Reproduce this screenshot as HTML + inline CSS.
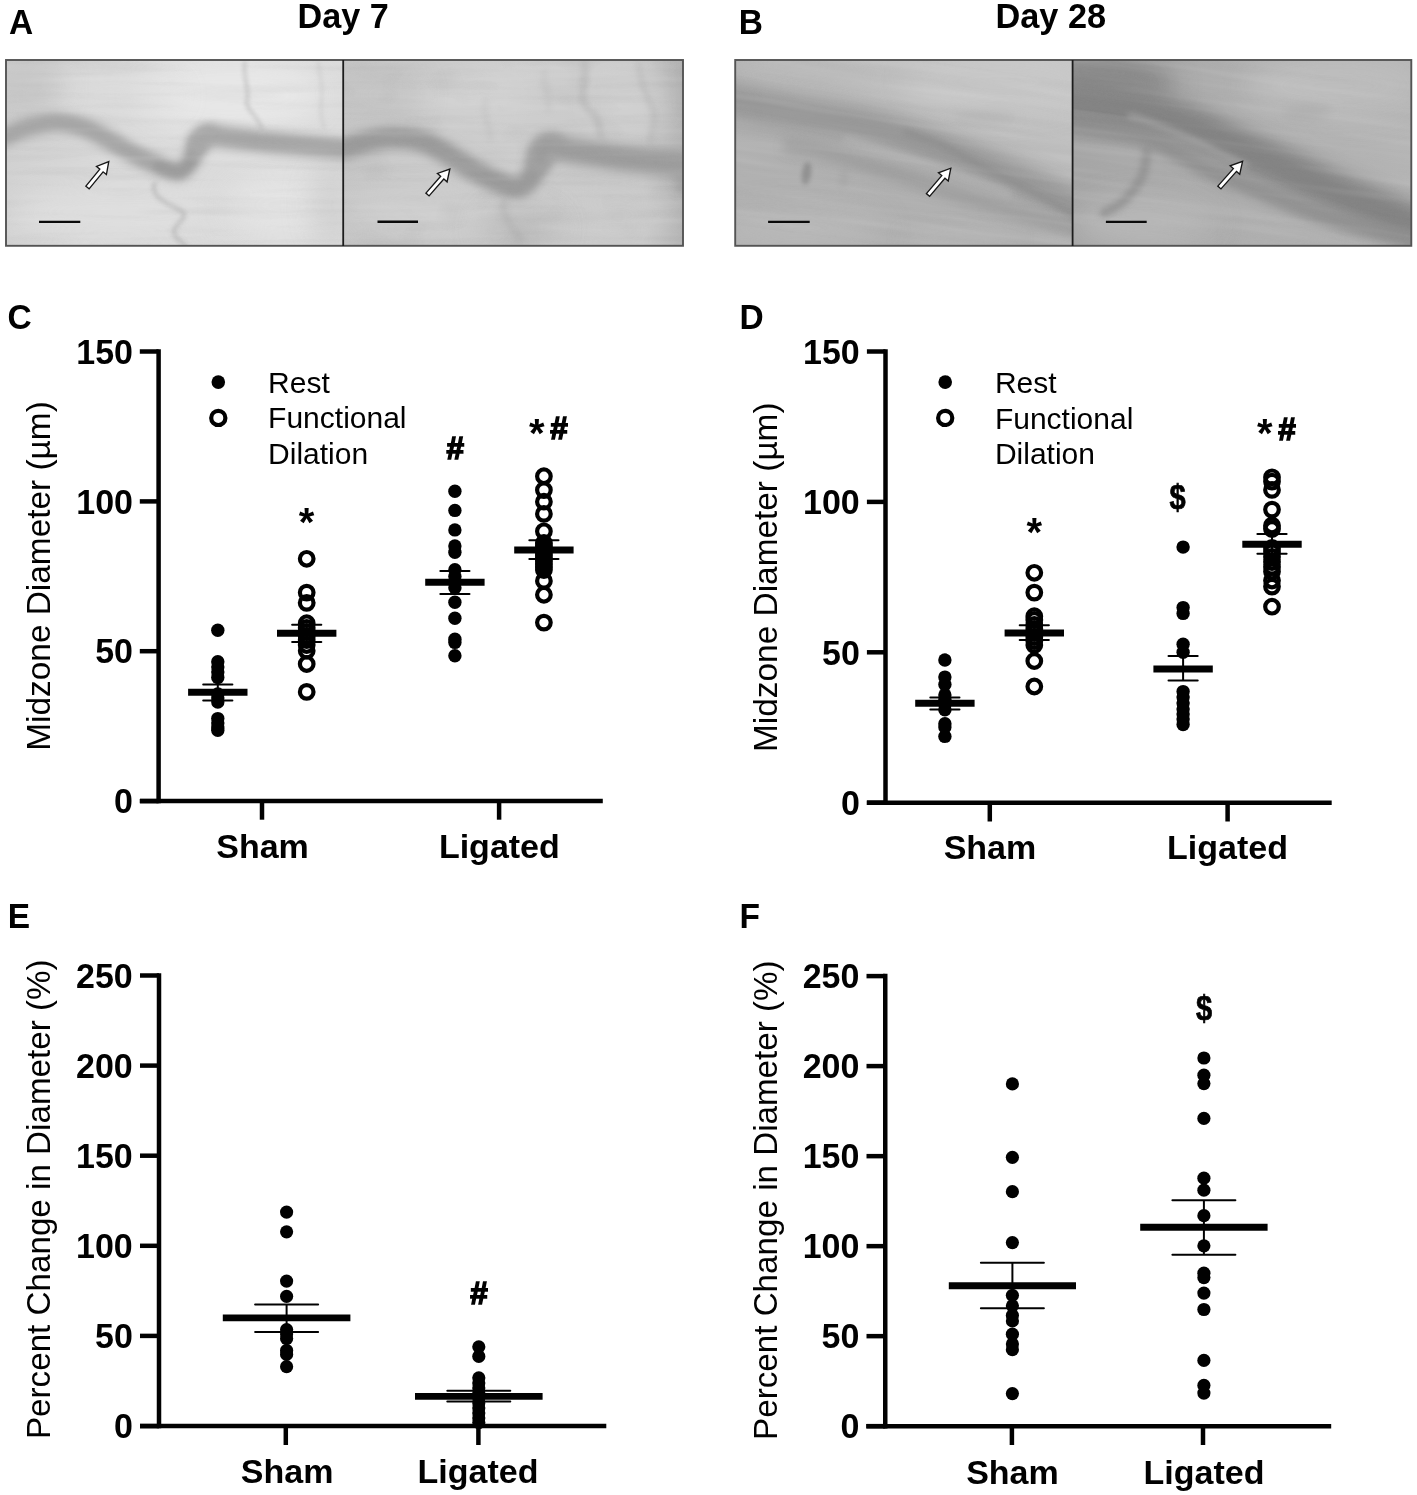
<!DOCTYPE html>
<html lang="en"><head><meta charset="utf-8"><title>Figure</title>
<style>html,body{margin:0;padding:0;background:#fff;overflow:hidden}svg{display:block}text{font-family:"Liberation Sans",sans-serif;fill:#000}</style>
</head><body>
<svg width="1417" height="1495" viewBox="0 0 1417 1495">
<rect width="1417" height="1495" fill="#fff"/>
<defs>
<filter id="b1" x="-150%" y="-150%" width="400%" height="400%"><feGaussianBlur stdDeviation="1.2"/></filter>
<filter id="b2" x="-150%" y="-150%" width="400%" height="400%"><feGaussianBlur stdDeviation="2.2"/></filter>
<filter id="b3" x="-150%" y="-150%" width="400%" height="400%"><feGaussianBlur stdDeviation="3.2"/></filter>
<filter id="b5" x="-150%" y="-150%" width="400%" height="400%"><feGaussianBlur stdDeviation="5"/></filter>
<filter id="b8" x="-150%" y="-150%" width="400%" height="400%"><feGaussianBlur stdDeviation="8"/></filter>
<filter id="b14" x="-150%" y="-150%" width="400%" height="400%"><feGaussianBlur stdDeviation="14"/></filter>
<filter id="b22" x="-150%" y="-150%" width="400%" height="400%"><feGaussianBlur stdDeviation="22"/></filter>
<clipPath id="cAL"><rect x="6" y="60" width="337.2" height="185.8"/></clipPath>
<clipPath id="cAR"><rect x="343.2" y="60" width="339.8" height="185.8"/></clipPath>
<clipPath id="cBL"><rect x="735.2" y="60" width="337" height="185.8"/></clipPath>
<clipPath id="cBR"><rect x="1072.2" y="60" width="339.2" height="185.8"/></clipPath>
<linearGradient id="gAL" x1="0" y1="0" x2="1" y2="0.25"><stop offset="0" stop-color="#cdcdcd"/><stop offset="0.45" stop-color="#dadada"/><stop offset="1" stop-color="#dcdcdc"/></linearGradient>
<linearGradient id="gAR" x1="0" y1="0" x2="1" y2="0"><stop offset="0" stop-color="#c6c6c6"/><stop offset="0.5" stop-color="#cecece"/><stop offset="0.88" stop-color="#c8c8c8"/><stop offset="1" stop-color="#b4b4b4"/></linearGradient>
<linearGradient id="gBL" x1="0" y1="1" x2="0.8" y2="0"><stop offset="0" stop-color="#b2b2b2"/><stop offset="0.45" stop-color="#b0b0b0"/><stop offset="1" stop-color="#c8c8c8"/></linearGradient>
<linearGradient id="gBR" x1="0" y1="0" x2="1" y2="0"><stop offset="0" stop-color="#a6a6a6"/><stop offset="0.5" stop-color="#b0b0b0"/><stop offset="1" stop-color="#b6b6b6"/></linearGradient>
<filter id="stD" x="0" y="0" width="100%" height="100%"><feTurbulence type="fractalNoise" baseFrequency="0.006 0.11" numOctaves="2" seed="4"/><feColorMatrix type="matrix" values="0 0 0 0 0.3  0 0 0 0 0.3  0 0 0 0 0.3  1.6 0 0 0 -0.8"/></filter>
<filter id="stL" x="0" y="0" width="100%" height="100%"><feTurbulence type="fractalNoise" baseFrequency="0.006 0.11" numOctaves="2" seed="4"/><feColorMatrix type="matrix" values="0 0 0 0 1  0 0 0 0 1  0 0 0 0 1  -1.6 0 0 0 0.8"/></filter>
<filter id="mtD" x="0" y="0" width="100%" height="100%"><feTurbulence type="fractalNoise" baseFrequency="0.02 0.03" numOctaves="2" seed="9"/><feColorMatrix type="matrix" values="0 0 0 0 0.35  0 0 0 0 0.35  0 0 0 0 0.35  1.5 0 0 0 -0.78"/></filter>
</defs>
<g clip-path="url(#cAL)">
<rect x="5" y="59" width="340" height="188" fill="url(#gAL)"/>
<ellipse cx="230" cy="95" rx="95" ry="38" fill="#e8e8e8" filter="url(#b14)" opacity="0.9"/>
<ellipse cx="120" cy="212" rx="110" ry="28" fill="#dedede" filter="url(#b14)" opacity="0.85"/>
<ellipse cx="285" cy="205" rx="60" ry="30" fill="#e6e6e6" filter="url(#b14)" opacity="0.85"/>
<ellipse cx="110" cy="95" rx="70" ry="22" fill="#dedede" filter="url(#b14)" opacity="0.7"/>
<ellipse cx="25" cy="85" rx="35" ry="40" fill="#c6c6c6" filter="url(#b14)" opacity="0.8"/>
<ellipse cx="332" cy="205" rx="22" ry="45" fill="#cecece" filter="url(#b14)" opacity="0.8"/>
<path d="M-8.0 139.0 C-5.5 138.4, 1.2 137.5, 6.8 135.7 C12.4 133.9, 17.2 130.3, 25.4 128.1 C33.6 125.8, 46.0 122.2, 55.9 122.2 C65.8 122.2, 75.7 125.0, 84.7 128.1 C93.7 131.2, 101.5 136.3, 110.0 140.8 C118.5 145.3, 128.4 151.5, 135.5 155.2 C142.6 158.9, 146.8 160.4, 152.4 162.8 C158.1 165.2, 164.9 168.2, 169.4 169.6 C173.9 171.0, 176.4 172.2, 179.5 171.3 C182.6 170.5, 185.4 167.6, 188.0 164.5 C190.6 161.4, 192.8 156.8, 194.8 152.7 C196.8 148.6, 197.8 142.9, 200.0 140.0 C202.2 137.1, 206.7 135.8, 208.0 135.0" fill="none" stroke="#afafaf" stroke-width="20" stroke-linecap="round" stroke-linejoin="round" filter="url(#b5)" opacity="1" />
<path d="M-8.0 139.0 C-5.5 138.4, 1.2 137.5, 6.8 135.7 C12.4 133.9, 17.2 130.3, 25.4 128.1 C33.6 125.8, 46.0 122.2, 55.9 122.2 C65.8 122.2, 75.7 125.0, 84.7 128.1 C93.7 131.2, 101.5 136.3, 110.0 140.8 C118.5 145.3, 128.4 151.5, 135.5 155.2 C142.6 158.9, 146.8 160.4, 152.4 162.8 C158.1 165.2, 164.9 168.2, 169.4 169.6 C173.9 171.0, 176.4 172.2, 179.5 171.3 C182.6 170.5, 185.4 167.6, 188.0 164.5 C190.6 161.4, 192.8 156.8, 194.8 152.7 C196.8 148.6, 197.8 142.9, 200.0 140.0 C202.2 137.1, 206.7 135.8, 208.0 135.0" fill="none" stroke="#a5a5a5" stroke-width="11" stroke-linecap="round" stroke-linejoin="round" filter="url(#b3)" opacity="0.85" />
<path d="M158.0 166.0 C160.0 166.8, 166.3 169.6, 170.0 170.5 C173.7 171.4, 177.0 172.4, 180.0 171.5 C183.0 170.6, 185.5 168.2, 188.0 165.0 C190.5 161.8, 193.0 156.0, 195.0 152.0 C197.0 148.0, 199.2 142.8, 200.0 141.0" fill="none" stroke="#979797" stroke-width="10" stroke-linecap="round" stroke-linejoin="round" filter="url(#b3)" opacity="0.7" />
<path d="M198.0 143.0 C199.7 141.8, 202.8 136.4, 208.0 135.5 C213.2 134.6, 218.1 136.6, 229.0 137.8 C239.9 139.1, 256.1 141.3, 273.4 143.0 C290.7 144.7, 319.5 147.0, 332.6 148.2 C345.7 149.4, 348.8 149.7, 352.0 150.0" fill="none" stroke="#adadad" stroke-width="22" stroke-linecap="round" stroke-linejoin="round" filter="url(#b5)" opacity="1" />
<path d="M198.0 143.0 C199.7 141.8, 202.8 136.4, 208.0 135.5 C213.2 134.6, 218.1 136.6, 229.0 137.8 C239.9 139.1, 256.1 141.3, 273.4 143.0 C290.7 144.7, 319.5 147.0, 332.6 148.2 C345.7 149.4, 348.8 149.7, 352.0 150.0" fill="none" stroke="#a5a5a5" stroke-width="11" stroke-linecap="round" stroke-linejoin="round" filter="url(#b3)" opacity="0.8" />
<path d="M155 183 C 150 192, 160 200, 170 205 S 190 212, 180 222 S 172 235, 186 246" fill="none" stroke="#bdbdbd" stroke-width="4" stroke-linecap="round" stroke-linejoin="round" filter="url(#b2)" opacity="0.9" />
<path d="M245 62 C 242 75, 250 90, 247 100 S 262 118, 262 132" fill="none" stroke="#c2c2c2" stroke-width="3.2" stroke-linecap="round" stroke-linejoin="round" filter="url(#b2)" opacity="0.9" />
<path d="M318.6 62.0 C318.6 62.5, 318.0 60.1, 318.6 64.8 C319.2 69.5, 321.6 82.2, 322.0 90.0 C322.4 97.8, 320.7 105.4, 321.0 111.7 C321.3 118.0, 323.5 125.3, 324.0 128.0" fill="none" stroke="#c6c6c6" stroke-width="3" stroke-linecap="round" stroke-linejoin="round" filter="url(#b2)" opacity="0.6" />
<rect x="5" y="59" width="340" height="188" filter="url(#stD)" opacity="0.16"/>
<rect x="5" y="59" width="340" height="188" filter="url(#stL)" opacity="0.16"/>
</g>
<g clip-path="url(#cAR)">
<rect x="342" y="59" width="342" height="188" fill="url(#gAR)"/>
<ellipse cx="470" cy="92" rx="55" ry="24" fill="#d4d4d4" filter="url(#b14)" opacity="0.8"/>
<ellipse cx="625" cy="105" rx="40" ry="28" fill="#d2d2d2" filter="url(#b14)" opacity="0.8"/>
<ellipse cx="415" cy="215" rx="70" ry="25" fill="#cecece" filter="url(#b14)" opacity="0.8"/>
<ellipse cx="615" cy="215" rx="55" ry="22" fill="#cccccc" filter="url(#b14)" opacity="0.8"/>
<ellipse cx="520" cy="228" rx="40" ry="22" fill="#b8b8b8" filter="url(#b14)" opacity="0.7"/>
<ellipse cx="380" cy="95" rx="40" ry="30" fill="#c2c2c2" filter="url(#b14)" opacity="0.6"/>
<ellipse cx="682" cy="178" rx="7" ry="16" fill="#9a9a9a" filter="url(#b5)" opacity="0.7"/>
<ellipse cx="683" cy="90" rx="5" ry="30" fill="#b0b0b0" filter="url(#b5)" opacity="0.5"/>
<path d="M336.0 150.0 C337.8 149.6, 340.5 149.1, 346.8 147.4 C353.1 145.7, 365.7 141.5, 373.9 139.8 C382.1 138.1, 387.4 136.9, 395.9 137.3 C404.4 137.7, 415.7 139.2, 424.7 142.3 C433.7 145.4, 441.5 151.1, 450.0 155.9 C458.5 160.7, 468.4 167.2, 475.5 171.1 C482.6 175.0, 486.8 177.0, 492.4 179.6 C498.0 182.2, 504.9 185.1, 509.4 186.4 C513.9 187.7, 516.1 188.3, 519.5 187.2 C522.9 186.1, 526.9 182.8, 529.7 179.6 C532.5 176.3, 534.2 172.2, 536.5 167.7 C538.8 163.2, 540.5 156.2, 543.3 152.5 C546.1 148.8, 551.7 146.8, 553.4 145.7" fill="none" stroke="#a4a4a4" stroke-width="23" stroke-linecap="round" stroke-linejoin="round" filter="url(#b5)" opacity="1" />
<path d="M336.0 150.0 C337.8 149.6, 340.5 149.1, 346.8 147.4 C353.1 145.7, 365.7 141.5, 373.9 139.8 C382.1 138.1, 387.4 136.9, 395.9 137.3 C404.4 137.7, 415.7 139.2, 424.7 142.3 C433.7 145.4, 441.5 151.1, 450.0 155.9 C458.5 160.7, 468.4 167.2, 475.5 171.1 C482.6 175.0, 486.8 177.0, 492.4 179.6 C498.0 182.2, 504.9 185.1, 509.4 186.4 C513.9 187.7, 516.1 188.3, 519.5 187.2 C522.9 186.1, 526.9 182.8, 529.7 179.6 C532.5 176.3, 534.2 172.2, 536.5 167.7 C538.8 163.2, 540.5 156.2, 543.3 152.5 C546.1 148.8, 551.7 146.8, 553.4 145.7" fill="none" stroke="#9a9a9a" stroke-width="13" stroke-linecap="round" stroke-linejoin="round" filter="url(#b3)" opacity="0.85" />
<path d="M540.0 158.0 C541.1 156.0, 541.5 147.4, 546.6 146.1 C551.7 144.8, 561.9 148.9, 570.6 150.3 C579.3 151.7, 589.4 153.2, 598.8 154.6 C608.2 156.0, 617.6 157.6, 627.0 158.8 C636.4 160.0, 644.8 160.8, 655.3 161.6 C665.8 162.4, 684.2 163.2, 690.0 163.5" fill="none" stroke="#a4a4a4" stroke-width="27" stroke-linecap="round" stroke-linejoin="round" filter="url(#b5)" opacity="1" />
<path d="M540.0 158.0 C541.1 156.0, 541.5 147.4, 546.6 146.1 C551.7 144.8, 561.9 148.9, 570.6 150.3 C579.3 151.7, 589.4 153.2, 598.8 154.6 C608.2 156.0, 617.6 157.6, 627.0 158.8 C636.4 160.0, 644.8 160.8, 655.3 161.6 C665.8 162.4, 684.2 163.2, 690.0 163.5" fill="none" stroke="#9b9b9b" stroke-width="13" stroke-linecap="round" stroke-linejoin="round" filter="url(#b3)" opacity="0.85" />
<path d="M584.7 62.0 C584.7 64.0, 584.9 67.4, 584.7 74.1 C584.5 80.8, 581.4 95.2, 583.3 102.3 C585.2 109.4, 593.2 111.3, 596.0 116.5 C598.8 121.7, 599.3 129.5, 600.2 133.4 C601.1 137.3, 601.4 138.9, 601.6 140.0" fill="none" stroke="#b2b2b2" stroke-width="5" stroke-linecap="round" stroke-linejoin="round" filter="url(#b3)" opacity="0.8" />
<path d="M545 70 C 540 85, 552 95, 548 110" fill="none" stroke="#bababa" stroke-width="4" stroke-linecap="round" stroke-linejoin="round" filter="url(#b3)" opacity="0.6" />
<path d="M486 100 C 480 115, 492 125, 490 140" fill="none" stroke="#bcbcbc" stroke-width="4" stroke-linecap="round" stroke-linejoin="round" filter="url(#b3)" opacity="0.6" />
<path d="M505 200 C 498 212, 512 225, 520 240" fill="none" stroke="#b0b0b0" stroke-width="7" stroke-linecap="round" stroke-linejoin="round" filter="url(#b3)" opacity="0.6" />
<path d="M639.0 62.0 C639.0 62.6, 638.2 61.1, 639.0 65.5 C639.8 69.9, 641.4 80.4, 644.0 88.6 C646.6 96.8, 653.1 106.7, 654.4 114.4 C655.7 122.1, 652.5 129.7, 651.8 135.0 C651.1 140.3, 650.3 144.2, 650.0 146.0" fill="none" stroke="#b4b4b4" stroke-width="4.5" stroke-linecap="round" stroke-linejoin="round" filter="url(#b3)" opacity="0.7" />
<path d="M669 62 C 666 75, 674 88, 671 100" fill="none" stroke="#b8b8b8" stroke-width="3.5" stroke-linecap="round" stroke-linejoin="round" filter="url(#b3)" opacity="0.5" />
<rect x="342" y="59" width="342" height="188" filter="url(#stD)" opacity="0.16"/>
<rect x="342" y="59" width="342" height="188" filter="url(#stL)" opacity="0.16"/>
<rect x="342" y="59" width="342" height="188" filter="url(#mtD)" opacity="0.3"/>
</g>
<g clip-path="url(#cBL)">
<rect x="734" y="59" width="340" height="188" fill="url(#gBL)"/>
<ellipse cx="1000" cy="82" rx="95" ry="30" fill="#c8c8c8" filter="url(#b14)" opacity="0.9"/>
<ellipse cx="800" cy="75" rx="70" ry="14" fill="#bcbcbc" filter="url(#b14)" opacity="0.8"/>
<ellipse cx="800" cy="228" rx="85" ry="20" fill="#bababa" filter="url(#b14)" opacity="0.85"/>
<ellipse cx="960" cy="238" rx="60" ry="10" fill="#b8b8b8" filter="url(#b8)" opacity="0.7"/>
<ellipse cx="985" cy="118" rx="32" ry="7" fill="#b2b2b2" filter="url(#b5)" opacity="0.5"/>
<path d="M720.0 98.0 C726.7 99.3, 746.0 103.3, 760.0 106.0 C774.0 108.7, 784.3 110.2, 804.0 114.0 C823.7 117.8, 853.3 122.4, 878.0 129.0 C902.7 135.6, 927.3 144.7, 952.0 153.8 C976.7 162.9, 1006.2 175.2, 1026.0 183.4 C1045.8 191.6, 1060.3 198.2, 1071.0 203.0 C1081.7 207.8, 1086.8 210.5, 1090.0 212.0" fill="none" stroke="#9a9a9a" stroke-width="34" stroke-linecap="round" stroke-linejoin="round" filter="url(#b8)" opacity="0.95" />
<path d="M720.0 98.0 C726.7 99.3, 746.0 103.3, 760.0 106.0 C774.0 108.7, 784.3 110.2, 804.0 114.0 C823.7 117.8, 853.3 122.4, 878.0 129.0 C902.7 135.6, 927.3 144.7, 952.0 153.8 C976.7 162.9, 1006.2 175.2, 1026.0 183.4 C1045.8 191.6, 1060.3 198.2, 1071.0 203.0 C1081.7 207.8, 1086.8 210.5, 1090.0 212.0" fill="none" stroke="#969696" stroke-width="14" stroke-linecap="round" stroke-linejoin="round" filter="url(#b5)" opacity="0.6" />
<path d="M790.0 146.0 C796.5 147.3, 810.0 148.8, 828.8 153.8 C847.6 158.8, 878.3 168.2, 903.0 176.0 C927.7 183.8, 949.0 192.0, 977.0 200.7 C1005.0 209.4, 1052.2 222.4, 1071.0 228.0 C1089.8 233.6, 1086.8 233.0, 1090.0 234.0" fill="none" stroke="#9e9e9e" stroke-width="16" stroke-linecap="round" stroke-linejoin="round" filter="url(#b5)" opacity="0.85" />
<path d="M845.0 140.0 C846.4 140.2, 841.8 138.2, 853.5 141.5 C865.2 144.8, 894.4 153.4, 915.0 160.0 C935.6 166.6, 961.2 175.3, 977.0 181.0 C992.8 186.7, 1004.5 191.8, 1010.0 194.0" fill="none" stroke="#bcbcbc" stroke-width="4.5" stroke-linecap="round" stroke-linejoin="round" filter="url(#b3)" opacity="0.75" />
<path d="M905.0 132.0 C910.8 134.0, 928.0 138.7, 940.0 144.0 C952.0 149.3, 962.6 156.3, 977.0 163.7 C991.4 171.1, 1010.7 180.2, 1026.4 188.4 C1042.1 196.6, 1060.4 207.2, 1071.0 213.0 C1081.6 218.8, 1086.8 221.3, 1090.0 223.0" fill="none" stroke="#8a8a8a" stroke-width="5" stroke-linecap="round" stroke-linejoin="round" filter="url(#b3)" opacity="0.8" />
<ellipse cx="806.5" cy="173.5" rx="4.6" ry="11.5" fill="#8e8e8e" filter="url(#b2)" opacity="0.9" transform="rotate(8 806.5 173.5)"/>
<ellipse cx="843.6" cy="178.5" rx="3.4" ry="10" fill="#a4a4a4" filter="url(#b3)" opacity="0.7" transform="rotate(4 843.6 178.5)"/>
<rect x="714" y="59" width="380" height="188" filter="url(#stD)" opacity="0.14" transform="rotate(8 904 150)"/>
<rect x="714" y="59" width="380" height="188" filter="url(#stL)" opacity="0.14" transform="rotate(8 904 150)"/>
</g>
<g clip-path="url(#cBR)">
<rect x="1071" y="59" width="342" height="188" fill="url(#gBR)"/>
<ellipse cx="1335" cy="86" rx="90" ry="32" fill="#bebebe" filter="url(#b14)" opacity="0.95"/>
<ellipse cx="1145" cy="222" rx="70" ry="24" fill="#b9b9b9" filter="url(#b14)" opacity="0.9"/>
<ellipse cx="1290" cy="238" rx="60" ry="10" fill="#b0b0b0" filter="url(#b8)" opacity="0.7"/>
<ellipse cx="1100" cy="84" rx="75" ry="30" fill="#888888" filter="url(#b14)" opacity="0.97"/>
<ellipse cx="1307" cy="112" rx="24" ry="7" fill="#a8a8a8" filter="url(#b5)" opacity="0.55"/>
<path d="M1045.0 101.0 C1049.9 101.6, 1058.4 102.6, 1074.4 104.4 C1090.4 106.2, 1121.7 108.1, 1141.0 111.8 C1160.3 115.5, 1174.0 120.4, 1190.5 126.6 C1207.0 132.8, 1223.5 141.5, 1240.0 148.9 C1256.5 156.3, 1272.8 163.6, 1289.3 171.0 C1305.8 178.4, 1318.5 184.6, 1338.7 193.3 C1358.9 202.0, 1395.1 216.7, 1410.3 223.0 C1425.5 229.3, 1426.7 229.7, 1430.0 231.0" fill="none" stroke="#878787" stroke-width="42" stroke-linecap="round" stroke-linejoin="round" filter="url(#b8)" opacity="0.97" />
<path d="M1045.0 101.0 C1049.9 101.6, 1058.4 102.6, 1074.4 104.4 C1090.4 106.2, 1121.7 108.1, 1141.0 111.8 C1160.3 115.5, 1174.0 120.4, 1190.5 126.6 C1207.0 132.8, 1223.5 141.5, 1240.0 148.9 C1256.5 156.3, 1272.8 163.6, 1289.3 171.0 C1305.8 178.4, 1318.5 184.6, 1338.7 193.3 C1358.9 202.0, 1395.1 216.7, 1410.3 223.0 C1425.5 229.3, 1426.7 229.7, 1430.0 231.0" fill="none" stroke="#828282" stroke-width="17" stroke-linecap="round" stroke-linejoin="round" filter="url(#b5)" opacity="0.7" />
<path d="M1045.0 123.0 C1049.9 123.6, 1058.4 124.3, 1074.4 126.6 C1090.4 128.8, 1123.7 132.0, 1141.0 136.5 C1158.3 141.0, 1165.7 147.6, 1178.0 153.8 C1190.3 160.0, 1200.6 167.0, 1215.0 173.6 C1229.4 180.2, 1248.1 186.7, 1264.6 193.3 C1281.1 199.9, 1297.5 207.2, 1314.0 213.0 C1330.5 218.8, 1347.4 223.8, 1363.4 227.9 C1379.4 232.0, 1398.9 235.6, 1410.0 237.8 C1421.1 240.0, 1426.7 240.5, 1430.0 241.0" fill="none" stroke="#8f8f8f" stroke-width="17" stroke-linecap="round" stroke-linejoin="round" filter="url(#b5)" opacity="0.9" />
<path d="M1130.0 116.0 C1133.1 117.0, 1138.4 117.9, 1148.5 121.7 C1158.6 125.5, 1178.6 133.7, 1190.5 139.0 C1202.4 144.3, 1210.9 149.5, 1220.0 153.8 C1229.1 158.1, 1240.8 163.1, 1245.0 165.0" fill="none" stroke="#a8a8a8" stroke-width="5.5" stroke-linecap="round" stroke-linejoin="round" filter="url(#b3)" opacity="0.8" />
<path d="M1147.0 150.0 C1146.8 151.7, 1147.0 155.2, 1146.0 160.0 C1145.0 164.8, 1144.7 171.7, 1141.0 178.5 C1137.3 185.3, 1130.0 194.9, 1123.8 200.7 C1117.6 206.4, 1107.3 210.9, 1104.0 213.0" fill="none" stroke="#919191" stroke-width="9" stroke-linecap="round" stroke-linejoin="round" filter="url(#b3)" opacity="0.85" />
<rect x="1051" y="59" width="382" height="188" filter="url(#stD)" opacity="0.14" transform="rotate(8 1241 150)"/>
<rect x="1051" y="59" width="382" height="188" filter="url(#stL)" opacity="0.14" transform="rotate(8 1241 150)"/>
</g>
<path d="M0.0 -2.1 L22.0 -2.1 L22.0 -6.4 L33.5 0.0 L22.0 6.4 L22.0 2.1 L0.0 2.1 Z" transform="translate(87.5 187.5) rotate(-50.6)" fill="#fff" stroke="#161616" stroke-width="1.35" stroke-linejoin="miter"/>
<path d="M0.0 -2.1 L22.4 -2.1 L22.4 -6.4 L33.9 0.0 L22.4 6.4 L22.4 2.1 L0.0 2.1 Z" transform="translate(427.5 194.5) rotate(-48.8)" fill="#fff" stroke="#161616" stroke-width="1.35" stroke-linejoin="miter"/>
<path d="M0.0 -2.1 L23.7 -2.1 L23.7 -6.4 L35.2 0.0 L23.7 6.4 L23.7 2.1 L0.0 2.1 Z" transform="translate(928.0 195.0) rotate(-49.6)" fill="#fff" stroke="#161616" stroke-width="1.35" stroke-linejoin="miter"/>
<path d="M0.0 -2.1 L23.4 -2.1 L23.4 -6.4 L34.9 0.0 L23.4 6.4 L23.4 2.1 L0.0 2.1 Z" transform="translate(1219.4 187.5) rotate(-48.4)" fill="#fff" stroke="#161616" stroke-width="1.35" stroke-linejoin="miter"/>
<line x1="39" y1="221.9" x2="80.3" y2="221.9" stroke="#0a0a0a" stroke-width="2.4"/>
<line x1="377.5" y1="221.8" x2="418" y2="221.8" stroke="#0a0a0a" stroke-width="2.4"/>
<line x1="768.1" y1="221.9" x2="809.7" y2="221.9" stroke="#0a0a0a" stroke-width="2.4"/>
<line x1="1105.9" y1="221.9" x2="1146.7" y2="221.9" stroke="#0a0a0a" stroke-width="2.4"/>
<rect x="6" y="60" width="677" height="185.8" fill="none" stroke="#545454" stroke-width="1.9"/>
<line x1="343.2" y1="60" x2="343.2" y2="246" stroke="#1c1c1c" stroke-width="1.8"/>
<rect x="735.2" y="60" width="676.1" height="185.8" fill="none" stroke="#545454" stroke-width="1.9"/>
<line x1="1072.6" y1="60" x2="1072.6" y2="246" stroke="#1c1c1c" stroke-width="1.8"/>
<g opacity="0.999">
<text transform="translate(8.96 34.1) scale(1 1.04)" font-size="33.5" font-weight="700" >A</text>
<text transform="translate(738.84 34) scale(1 1.04)" font-size="33.5" font-weight="700" >B</text>
<text transform="translate(7.41 328.8) scale(1 1.04)" font-size="33.5" font-weight="700" >C</text>
<text transform="translate(739.54 329.4) scale(1 1.04)" font-size="33.5" font-weight="700" >D</text>
<text transform="translate(7.64 928.2) scale(1 1.04)" font-size="33.5" font-weight="700" >E</text>
<text transform="translate(739.54 928.2) scale(1 1.04)" font-size="33.5" font-weight="700" >F</text>
<text x="297.49" y="27.7" font-size="34.2" font-weight="700" >Day 7</text>
<text x="995.48" y="27.7" font-size="34.3" font-weight="700" >Day 28</text>
<g id="panelC">
<line x1="158.6" y1="349.25" x2="158.6" y2="803.35" stroke="#000" stroke-width="4.5"/>
<line x1="139.9" y1="801.1" x2="602.8" y2="801.1" stroke="#000" stroke-width="4.5" />
<line x1="139.8" y1="351.5" x2="158.6" y2="351.5" stroke="#000" stroke-width="4.5" />
<text transform="translate(76.26 363.7) scale(1 1.04)" font-size="34" font-weight="700" >150</text>
<line x1="139.8" y1="501.4" x2="158.6" y2="501.4" stroke="#000" stroke-width="4.5" />
<text transform="translate(76.26 513.6) scale(1 1.04)" font-size="34" font-weight="700" >100</text>
<line x1="139.8" y1="651.2" x2="158.6" y2="651.2" stroke="#000" stroke-width="4.5" />
<text transform="translate(95.22 663.4) scale(1 1.04)" font-size="34" font-weight="700" >50</text>
<line x1="139.8" y1="801.1" x2="158.6" y2="801.1" stroke="#000" stroke-width="4.5" />
<text transform="translate(114.09 813.3) scale(1 1.04)" font-size="34" font-weight="700" >0</text>
<line x1="262" y1="801.1" x2="262" y2="819.7" stroke="#000" stroke-width="4.5"/>
<text x="216.23" y="857.6" font-size="34" font-weight="700" >Sham</text>
<line x1="499.1" y1="801.1" x2="499.1" y2="819.7" stroke="#000" stroke-width="4.5"/>
<text x="438.92" y="857.6" font-size="34" font-weight="700" >Ligated</text>
<text transform="translate(50.2 750.76) rotate(-90)" font-size="33.4" >Midzone Diameter (µm)</text>
<circle cx="218.3" cy="382.1" r="6.8"/>
<circle cx="218.3" cy="417.9" r="7.1" fill="none" stroke="#000" stroke-width="4.2"/>
<text x="268.12" y="392.6" font-size="30"  >Rest</text>
<text x="268.12" y="428.2" font-size="30"  >Functional</text>
<text x="268.12" y="463.9" font-size="30"  >Dilation</text>
<line x1="217.8" y1="684.6" x2="217.8" y2="700.5" stroke="#000" stroke-width="2"/>
<line x1="203.2" y1="684.6" x2="232.4" y2="684.6" stroke="#000" stroke-width="2" stroke-linecap="round"/>
<line x1="203.2" y1="700.5" x2="232.4" y2="700.5" stroke="#000" stroke-width="2" stroke-linecap="round"/>
<line x1="188.1" y1="692.3" x2="247.5" y2="692.3" stroke="#000" stroke-width="7" />
<circle cx="217.8" cy="630.3" r="6.7"/>
<circle cx="217.8" cy="661.7" r="6.7"/>
<circle cx="217.8" cy="667" r="6.7"/>
<circle cx="217.8" cy="672" r="6.7"/>
<circle cx="217.8" cy="677.5" r="6.7"/>
<circle cx="217.8" cy="694" r="6.7"/>
<circle cx="217.8" cy="698" r="6.7"/>
<circle cx="217.8" cy="702" r="6.7"/>
<circle cx="217.8" cy="718.6" r="6.7"/>
<circle cx="217.8" cy="723" r="6.7"/>
<circle cx="217.8" cy="727" r="6.7"/>
<circle cx="217.8" cy="730.2" r="6.7"/>
<line x1="306.7" y1="624.7" x2="306.7" y2="641.9" stroke="#000" stroke-width="2"/>
<line x1="292.1" y1="624.7" x2="321.3" y2="624.7" stroke="#000" stroke-width="2" stroke-linecap="round"/>
<line x1="292.1" y1="641.9" x2="321.3" y2="641.9" stroke="#000" stroke-width="2" stroke-linecap="round"/>
<line x1="277" y1="633.3" x2="336.4" y2="633.3" stroke="#000" stroke-width="7" />
<circle cx="306.7" cy="558.8" r="6.8" fill="none" stroke="#000" stroke-width="4.2"/>
<circle cx="306.7" cy="592.6" r="6.8" fill="none" stroke="#000" stroke-width="4.2"/>
<circle cx="306.7" cy="602.9" r="6.8" fill="none" stroke="#000" stroke-width="4.2"/>
<circle cx="306.7" cy="623.2" r="6.8" fill="none" stroke="#000" stroke-width="4.2"/>
<circle cx="306.7" cy="628" r="6.8" fill="none" stroke="#000" stroke-width="4.2"/>
<circle cx="306.7" cy="632" r="6.8" fill="none" stroke="#000" stroke-width="4.2"/>
<circle cx="306.7" cy="636" r="6.8" fill="none" stroke="#000" stroke-width="4.2"/>
<circle cx="306.7" cy="640" r="6.8" fill="none" stroke="#000" stroke-width="4.2"/>
<circle cx="306.7" cy="645" r="6.8" fill="none" stroke="#000" stroke-width="4.2"/>
<circle cx="306.7" cy="650.7" r="6.8" fill="none" stroke="#000" stroke-width="4.2"/>
<circle cx="306.7" cy="664" r="6.8" fill="none" stroke="#000" stroke-width="4.2"/>
<circle cx="306.7" cy="691.9" r="6.8" fill="none" stroke="#000" stroke-width="4.2"/>
<line x1="454.9" y1="571" x2="454.9" y2="593.9" stroke="#000" stroke-width="2"/>
<line x1="440.3" y1="571" x2="469.5" y2="571" stroke="#000" stroke-width="2" stroke-linecap="round"/>
<line x1="440.3" y1="593.9" x2="469.5" y2="593.9" stroke="#000" stroke-width="2" stroke-linecap="round"/>
<line x1="425.2" y1="582.3" x2="484.6" y2="582.3" stroke="#000" stroke-width="7" />
<circle cx="454.9" cy="491.3" r="6.7"/>
<circle cx="454.9" cy="510.4" r="6.7"/>
<circle cx="454.9" cy="529.9" r="6.7"/>
<circle cx="454.9" cy="545.9" r="6.7"/>
<circle cx="454.9" cy="552.3" r="6.7"/>
<circle cx="454.9" cy="569.7" r="6.7"/>
<circle cx="454.9" cy="576.5" r="6.7"/>
<circle cx="454.9" cy="582.6" r="6.7"/>
<circle cx="454.9" cy="587.8" r="6.7"/>
<circle cx="454.9" cy="602.3" r="6.7"/>
<circle cx="454.9" cy="618.3" r="6.7"/>
<circle cx="454.9" cy="639.3" r="6.7"/>
<circle cx="454.9" cy="642.4" r="6.7"/>
<circle cx="454.9" cy="655.7" r="6.7"/>
<line x1="543.9" y1="540.2" x2="543.9" y2="559.1" stroke="#000" stroke-width="2"/>
<line x1="529.3" y1="540.2" x2="558.5" y2="540.2" stroke="#000" stroke-width="2" stroke-linecap="round"/>
<line x1="529.3" y1="559.1" x2="558.5" y2="559.1" stroke="#000" stroke-width="2" stroke-linecap="round"/>
<line x1="514.2" y1="549.9" x2="573.6" y2="549.9" stroke="#000" stroke-width="7" />
<circle cx="543.9" cy="476.2" r="6.8" fill="none" stroke="#000" stroke-width="4.2"/>
<circle cx="543.9" cy="490.1" r="6.8" fill="none" stroke="#000" stroke-width="4.2"/>
<circle cx="543.9" cy="501.7" r="6.8" fill="none" stroke="#000" stroke-width="4.2"/>
<circle cx="543.9" cy="513.9" r="6.8" fill="none" stroke="#000" stroke-width="4.2"/>
<circle cx="543.9" cy="531.3" r="6.8" fill="none" stroke="#000" stroke-width="4.2"/>
<circle cx="543.9" cy="543" r="6.8" fill="none" stroke="#000" stroke-width="4.2"/>
<circle cx="543.9" cy="546" r="6.8" fill="none" stroke="#000" stroke-width="4.2"/>
<circle cx="543.9" cy="549" r="6.8" fill="none" stroke="#000" stroke-width="4.2"/>
<circle cx="543.9" cy="552" r="6.8" fill="none" stroke="#000" stroke-width="4.2"/>
<circle cx="543.9" cy="555" r="6.8" fill="none" stroke="#000" stroke-width="4.2"/>
<circle cx="543.9" cy="558" r="6.8" fill="none" stroke="#000" stroke-width="4.2"/>
<circle cx="543.9" cy="561" r="6.8" fill="none" stroke="#000" stroke-width="4.2"/>
<circle cx="543.9" cy="564" r="6.8" fill="none" stroke="#000" stroke-width="4.2"/>
<circle cx="543.9" cy="567" r="6.8" fill="none" stroke="#000" stroke-width="4.2"/>
<circle cx="543.9" cy="570" r="6.8" fill="none" stroke="#000" stroke-width="4.2"/>
<circle cx="543.9" cy="580.9" r="6.8" fill="none" stroke="#000" stroke-width="4.2"/>
<circle cx="543.9" cy="594.8" r="6.8" fill="none" stroke="#000" stroke-width="4.2"/>
<circle cx="543.9" cy="622.6" r="6.8" fill="none" stroke="#000" stroke-width="4.2"/>
<text x="298.7" y="535.55" font-size="40" font-weight="700" >*</text>
<text x="446.42" y="458.6" font-size="31.5" font-weight="700" stroke="#000" stroke-width="1.5" stroke-linejoin="miter">#</text>
<text x="529.1" y="446.85" font-size="40" font-weight="700" >*</text>
<text x="550.32" y="439" font-size="31.5" font-weight="700" stroke="#000" stroke-width="1.5" stroke-linejoin="miter">#</text>
</g>
<g id="panelD">
<line x1="885.5" y1="349.25" x2="885.5" y2="804.95" stroke="#000" stroke-width="4.5"/>
<line x1="866.8" y1="802.7" x2="1331.7" y2="802.7" stroke="#000" stroke-width="4.5" />
<line x1="866.9" y1="351.5" x2="885.5" y2="351.5" stroke="#000" stroke-width="4.5" />
<text transform="translate(803.06 363.7) scale(1 1.04)" font-size="34" font-weight="700" >150</text>
<line x1="866.9" y1="501.9" x2="885.5" y2="501.9" stroke="#000" stroke-width="4.5" />
<text transform="translate(803.06 514.1) scale(1 1.04)" font-size="34" font-weight="700" >100</text>
<line x1="866.9" y1="652.3" x2="885.5" y2="652.3" stroke="#000" stroke-width="4.5" />
<text transform="translate(822.02 664.5) scale(1 1.04)" font-size="34" font-weight="700" >50</text>
<line x1="866.9" y1="802.7" x2="885.5" y2="802.7" stroke="#000" stroke-width="4.5" />
<text transform="translate(840.89 814.9) scale(1 1.04)" font-size="34" font-weight="700" >0</text>
<line x1="989.8" y1="802.7" x2="989.8" y2="821.5" stroke="#000" stroke-width="4.5"/>
<text x="943.63" y="859.4" font-size="34" font-weight="700" >Sham</text>
<line x1="1227.6" y1="802.7" x2="1227.6" y2="821.5" stroke="#000" stroke-width="4.5"/>
<text x="1167.02" y="859.4" font-size="34" font-weight="700" >Ligated</text>
<text transform="translate(776.6 751.96) rotate(-90)" font-size="33.4" >Midzone Diameter (µm)</text>
<circle cx="945.2" cy="382.1" r="6.8"/>
<circle cx="945.2" cy="417.9" r="7.1" fill="none" stroke="#000" stroke-width="4.2"/>
<text x="994.92" y="392.9" font-size="30"  >Rest</text>
<text x="994.92" y="428.5" font-size="30"  >Functional</text>
<text x="994.92" y="464.3" font-size="30"  >Dilation</text>
<line x1="944.9" y1="697.5" x2="944.9" y2="709.4" stroke="#000" stroke-width="2"/>
<line x1="930.3" y1="697.5" x2="959.5" y2="697.5" stroke="#000" stroke-width="2" stroke-linecap="round"/>
<line x1="930.3" y1="709.4" x2="959.5" y2="709.4" stroke="#000" stroke-width="2" stroke-linecap="round"/>
<line x1="915.2" y1="703.3" x2="974.6" y2="703.3" stroke="#000" stroke-width="7" />
<circle cx="944.9" cy="660" r="6.7"/>
<circle cx="944.9" cy="677.1" r="6.7"/>
<circle cx="944.9" cy="684.6" r="6.7"/>
<circle cx="944.9" cy="694.9" r="6.7"/>
<circle cx="944.9" cy="699.6" r="6.7"/>
<circle cx="944.9" cy="704.3" r="6.7"/>
<circle cx="944.9" cy="709.7" r="6.7"/>
<circle cx="944.9" cy="723.7" r="6.7"/>
<circle cx="944.9" cy="727" r="6.7"/>
<circle cx="944.9" cy="736.4" r="6.7"/>
<line x1="1034.3" y1="625.3" x2="1034.3" y2="640" stroke="#000" stroke-width="2"/>
<line x1="1019.7" y1="625.3" x2="1048.9" y2="625.3" stroke="#000" stroke-width="2" stroke-linecap="round"/>
<line x1="1019.7" y1="640" x2="1048.9" y2="640" stroke="#000" stroke-width="2" stroke-linecap="round"/>
<line x1="1004.6" y1="633.1" x2="1064" y2="633.1" stroke="#000" stroke-width="7" />
<circle cx="1034.3" cy="572.8" r="6.8" fill="none" stroke="#000" stroke-width="4.2"/>
<circle cx="1034.3" cy="592.6" r="6.8" fill="none" stroke="#000" stroke-width="4.2"/>
<circle cx="1034.3" cy="616.2" r="6.8" fill="none" stroke="#000" stroke-width="4.2"/>
<circle cx="1034.3" cy="620" r="6.8" fill="none" stroke="#000" stroke-width="4.2"/>
<circle cx="1034.3" cy="625" r="6.8" fill="none" stroke="#000" stroke-width="4.2"/>
<circle cx="1034.3" cy="629" r="6.8" fill="none" stroke="#000" stroke-width="4.2"/>
<circle cx="1034.3" cy="633" r="6.8" fill="none" stroke="#000" stroke-width="4.2"/>
<circle cx="1034.3" cy="637" r="6.8" fill="none" stroke="#000" stroke-width="4.2"/>
<circle cx="1034.3" cy="641" r="6.8" fill="none" stroke="#000" stroke-width="4.2"/>
<circle cx="1034.3" cy="644.9" r="6.8" fill="none" stroke="#000" stroke-width="4.2"/>
<circle cx="1034.3" cy="661" r="6.8" fill="none" stroke="#000" stroke-width="4.2"/>
<circle cx="1034.3" cy="686.5" r="6.8" fill="none" stroke="#000" stroke-width="4.2"/>
<line x1="1183.1" y1="655.9" x2="1183.1" y2="680.6" stroke="#000" stroke-width="2"/>
<line x1="1168.5" y1="655.9" x2="1197.7" y2="655.9" stroke="#000" stroke-width="2" stroke-linecap="round"/>
<line x1="1168.5" y1="680.6" x2="1197.7" y2="680.6" stroke="#000" stroke-width="2" stroke-linecap="round"/>
<line x1="1153.4" y1="668.9" x2="1212.8" y2="668.9" stroke="#000" stroke-width="7" />
<circle cx="1183.1" cy="547.1" r="6.7"/>
<circle cx="1183.1" cy="607.6" r="6.7"/>
<circle cx="1183.1" cy="613.4" r="6.7"/>
<circle cx="1183.1" cy="644.3" r="6.7"/>
<circle cx="1183.1" cy="652.3" r="6.7"/>
<circle cx="1183.1" cy="691.6" r="6.7"/>
<circle cx="1183.1" cy="697" r="6.7"/>
<circle cx="1183.1" cy="703" r="6.7"/>
<circle cx="1183.1" cy="709" r="6.7"/>
<circle cx="1183.1" cy="714" r="6.7"/>
<circle cx="1183.1" cy="719" r="6.7"/>
<circle cx="1183.1" cy="724.6" r="6.7"/>
<line x1="1272" y1="534.1" x2="1272" y2="553.8" stroke="#000" stroke-width="2"/>
<line x1="1257.4" y1="534.1" x2="1286.6" y2="534.1" stroke="#000" stroke-width="2" stroke-linecap="round"/>
<line x1="1257.4" y1="553.8" x2="1286.6" y2="553.8" stroke="#000" stroke-width="2" stroke-linecap="round"/>
<line x1="1242.3" y1="544.2" x2="1301.7" y2="544.2" stroke="#000" stroke-width="7" />
<circle cx="1272" cy="477.3" r="6.8" fill="none" stroke="#000" stroke-width="4.2"/>
<circle cx="1272" cy="481.6" r="6.8" fill="none" stroke="#000" stroke-width="4.2"/>
<circle cx="1272" cy="489.9" r="6.8" fill="none" stroke="#000" stroke-width="4.2"/>
<circle cx="1272" cy="509.6" r="6.8" fill="none" stroke="#000" stroke-width="4.2"/>
<circle cx="1272" cy="525.5" r="6.8" fill="none" stroke="#000" stroke-width="4.2"/>
<circle cx="1272" cy="529" r="6.8" fill="none" stroke="#000" stroke-width="4.2"/>
<circle cx="1272" cy="548" r="6.8" fill="none" stroke="#000" stroke-width="4.2"/>
<circle cx="1272" cy="552" r="6.8" fill="none" stroke="#000" stroke-width="4.2"/>
<circle cx="1272" cy="557" r="6.8" fill="none" stroke="#000" stroke-width="4.2"/>
<circle cx="1272" cy="562" r="6.8" fill="none" stroke="#000" stroke-width="4.2"/>
<circle cx="1272" cy="567" r="6.8" fill="none" stroke="#000" stroke-width="4.2"/>
<circle cx="1272" cy="571.5" r="6.8" fill="none" stroke="#000" stroke-width="4.2"/>
<circle cx="1272" cy="580.5" r="6.8" fill="none" stroke="#000" stroke-width="4.2"/>
<circle cx="1272" cy="586.6" r="6.8" fill="none" stroke="#000" stroke-width="4.2"/>
<circle cx="1272" cy="606.7" r="6.8" fill="none" stroke="#000" stroke-width="4.2"/>
<text x="1026.5" y="545.85" font-size="40" font-weight="700" >*</text>
<text transform="translate(1169.43 509.44) scale(0.85 1)" font-size="34.2" font-weight="700" stroke="#000" stroke-width="0.7">$</text>
<text x="1257.1" y="447.45" font-size="40" font-weight="700" >*</text>
<text x="1278.22" y="439.9" font-size="31.5" font-weight="700" stroke="#000" stroke-width="1.5" stroke-linejoin="miter">#</text>
</g>
<g id="panelE">
<line x1="159" y1="973.25" x2="159" y2="1428.35" stroke="#000" stroke-width="4.5"/>
<line x1="140" y1="1426.1" x2="606.3" y2="1426.1" stroke="#000" stroke-width="4.5" />
<line x1="140" y1="975.5" x2="159" y2="975.5" stroke="#000" stroke-width="4.5" />
<text transform="translate(76.06 987.7) scale(1 1.04)" font-size="34" font-weight="700" >250</text>
<line x1="140" y1="1065.6" x2="159" y2="1065.6" stroke="#000" stroke-width="4.5" />
<text transform="translate(76.06 1077.8) scale(1 1.04)" font-size="34" font-weight="700" >200</text>
<line x1="140" y1="1155.7" x2="159" y2="1155.7" stroke="#000" stroke-width="4.5" />
<text transform="translate(76.06 1167.9) scale(1 1.04)" font-size="34" font-weight="700" >150</text>
<line x1="140" y1="1245.8" x2="159" y2="1245.8" stroke="#000" stroke-width="4.5" />
<text transform="translate(76.06 1258) scale(1 1.04)" font-size="34" font-weight="700" >100</text>
<line x1="140" y1="1335.9" x2="159" y2="1335.9" stroke="#000" stroke-width="4.5" />
<text transform="translate(95.02 1348.1) scale(1 1.04)" font-size="34" font-weight="700" >50</text>
<line x1="140" y1="1426.1" x2="159" y2="1426.1" stroke="#000" stroke-width="4.5" />
<text transform="translate(113.89 1438.3) scale(1 1.04)" font-size="34" font-weight="700" >0</text>
<line x1="285.8" y1="1426.1" x2="285.8" y2="1445" stroke="#000" stroke-width="4.5"/>
<text x="240.83" y="1482.7" font-size="34" font-weight="700" >Sham</text>
<line x1="478.4" y1="1426.1" x2="478.4" y2="1445" stroke="#000" stroke-width="4.5"/>
<text x="417.52" y="1482.7" font-size="34" font-weight="700" >Ligated</text>
<text transform="translate(50.2 1439.04) rotate(-90)" font-size="33.2" >Percent Change in Diameter (%)</text>
<line x1="286.6" y1="1304.4" x2="286.6" y2="1331.9" stroke="#000" stroke-width="2"/>
<line x1="255.1" y1="1304.4" x2="318.1" y2="1304.4" stroke="#000" stroke-width="2" stroke-linecap="round"/>
<line x1="255.1" y1="1331.9" x2="318.1" y2="1331.9" stroke="#000" stroke-width="2" stroke-linecap="round"/>
<line x1="222.8" y1="1317.9" x2="350.4" y2="1317.9" stroke="#000" stroke-width="6.8" />
<circle cx="286.6" cy="1212.1" r="6.6"/>
<circle cx="286.6" cy="1231.8" r="6.6"/>
<circle cx="286.6" cy="1281.1" r="6.6"/>
<circle cx="286.6" cy="1296.3" r="6.6"/>
<circle cx="286.6" cy="1329.6" r="6.6"/>
<circle cx="286.6" cy="1334" r="6.6"/>
<circle cx="286.6" cy="1338.6" r="6.6"/>
<circle cx="286.6" cy="1350.5" r="6.6"/>
<circle cx="286.6" cy="1354.4" r="6.6"/>
<circle cx="286.6" cy="1366.7" r="6.6"/>
<line x1="478.8" y1="1390.7" x2="478.8" y2="1401.6" stroke="#000" stroke-width="2"/>
<line x1="447.3" y1="1390.7" x2="510.3" y2="1390.7" stroke="#000" stroke-width="2" stroke-linecap="round"/>
<line x1="447.3" y1="1401.6" x2="510.3" y2="1401.6" stroke="#000" stroke-width="2" stroke-linecap="round"/>
<line x1="415" y1="1396.3" x2="542.6" y2="1396.3" stroke="#000" stroke-width="6.8" />
<circle cx="478.8" cy="1346.8" r="6.6"/>
<circle cx="478.8" cy="1356.4" r="6.6"/>
<circle cx="478.8" cy="1377.8" r="6.6"/>
<circle cx="478.8" cy="1383" r="6.6"/>
<circle cx="478.8" cy="1388" r="6.6"/>
<circle cx="478.8" cy="1393" r="6.6"/>
<circle cx="478.8" cy="1398" r="6.6"/>
<circle cx="478.8" cy="1403" r="6.6"/>
<circle cx="478.8" cy="1408" r="6.6"/>
<circle cx="478.8" cy="1413" r="6.6"/>
<circle cx="478.8" cy="1418" r="6.6"/>
<circle cx="478.8" cy="1422.6" r="6.6"/>
<text x="470.22" y="1303.5" font-size="31.5" font-weight="700" stroke="#000" stroke-width="1.5" stroke-linejoin="miter">#</text>
</g>
<g id="panelF">
<line x1="885.25" y1="973.85" x2="885.25" y2="1428.4" stroke="#000" stroke-width="4.5"/>
<line x1="866.2" y1="1426.15" x2="1331.2" y2="1426.15" stroke="#000" stroke-width="4.5" />
<line x1="866.5" y1="976.1" x2="885.25" y2="976.1" stroke="#000" stroke-width="4.5" />
<text transform="translate(802.66 988.3) scale(1 1.04)" font-size="34" font-weight="700" >250</text>
<line x1="866.5" y1="1066.1" x2="885.25" y2="1066.1" stroke="#000" stroke-width="4.5" />
<text transform="translate(802.66 1078.3) scale(1 1.04)" font-size="34" font-weight="700" >200</text>
<line x1="866.5" y1="1156.15" x2="885.25" y2="1156.15" stroke="#000" stroke-width="4.5" />
<text transform="translate(802.66 1168.35) scale(1 1.04)" font-size="34" font-weight="700" >150</text>
<line x1="866.5" y1="1246.15" x2="885.25" y2="1246.15" stroke="#000" stroke-width="4.5" />
<text transform="translate(802.66 1258.35) scale(1 1.04)" font-size="34" font-weight="700" >100</text>
<line x1="866.5" y1="1336.15" x2="885.25" y2="1336.15" stroke="#000" stroke-width="4.5" />
<text transform="translate(821.62 1348.35) scale(1 1.04)" font-size="34" font-weight="700" >50</text>
<line x1="866.5" y1="1426.15" x2="885.25" y2="1426.15" stroke="#000" stroke-width="4.5" />
<text transform="translate(840.49 1438.35) scale(1 1.04)" font-size="34" font-weight="700" >0</text>
<line x1="1011.9" y1="1426.15" x2="1011.9" y2="1445" stroke="#000" stroke-width="4.5"/>
<text x="966.13" y="1483.5" font-size="34" font-weight="700" >Sham</text>
<line x1="1203" y1="1426.15" x2="1203" y2="1445" stroke="#000" stroke-width="4.5"/>
<text x="1143.52" y="1483.5" font-size="34" font-weight="700" >Ligated</text>
<text transform="translate(776.7 1439.94) rotate(-90)" font-size="33.2" >Percent Change in Diameter (%)</text>
<line x1="1012.4" y1="1262.7" x2="1012.4" y2="1308.3" stroke="#000" stroke-width="2"/>
<line x1="980.9" y1="1262.7" x2="1043.9" y2="1262.7" stroke="#000" stroke-width="2" stroke-linecap="round"/>
<line x1="980.9" y1="1308.3" x2="1043.9" y2="1308.3" stroke="#000" stroke-width="2" stroke-linecap="round"/>
<line x1="948.8" y1="1285.8" x2="1076" y2="1285.8" stroke="#000" stroke-width="7" />
<circle cx="1012.4" cy="1083.9" r="6.6"/>
<circle cx="1012.4" cy="1157.3" r="6.6"/>
<circle cx="1012.4" cy="1191.7" r="6.6"/>
<circle cx="1012.4" cy="1242.6" r="6.6"/>
<circle cx="1012.4" cy="1295.3" r="6.6"/>
<circle cx="1012.4" cy="1305.8" r="6.6"/>
<circle cx="1012.4" cy="1315.4" r="6.6"/>
<circle cx="1012.4" cy="1320.9" r="6.6"/>
<circle cx="1012.4" cy="1334.2" r="6.6"/>
<circle cx="1012.4" cy="1344" r="6.6"/>
<circle cx="1012.4" cy="1349.7" r="6.6"/>
<circle cx="1012.4" cy="1393.6" r="6.6"/>
<line x1="1203.9" y1="1200.2" x2="1203.9" y2="1254.7" stroke="#000" stroke-width="2"/>
<line x1="1172.4" y1="1200.2" x2="1235.4" y2="1200.2" stroke="#000" stroke-width="2" stroke-linecap="round"/>
<line x1="1172.4" y1="1254.7" x2="1235.4" y2="1254.7" stroke="#000" stroke-width="2" stroke-linecap="round"/>
<line x1="1140.2" y1="1227.3" x2="1267.6" y2="1227.3" stroke="#000" stroke-width="7" />
<circle cx="1203.9" cy="1058" r="6.6"/>
<circle cx="1203.9" cy="1075.2" r="6.6"/>
<circle cx="1203.9" cy="1083.6" r="6.6"/>
<circle cx="1203.9" cy="1118.4" r="6.6"/>
<circle cx="1203.9" cy="1178.2" r="6.6"/>
<circle cx="1203.9" cy="1190.2" r="6.6"/>
<circle cx="1203.9" cy="1215.7" r="6.6"/>
<circle cx="1203.9" cy="1245.8" r="6.6"/>
<circle cx="1203.9" cy="1273.2" r="6.6"/>
<circle cx="1203.9" cy="1277.6" r="6.6"/>
<circle cx="1203.9" cy="1293.1" r="6.6"/>
<circle cx="1203.9" cy="1309.5" r="6.6"/>
<circle cx="1203.9" cy="1360.4" r="6.6"/>
<circle cx="1203.9" cy="1385.4" r="6.6"/>
<circle cx="1203.9" cy="1393.1" r="6.6"/>
<text transform="translate(1196.03 1020.43) scale(0.85 1)" font-size="34.2" font-weight="700" stroke="#000" stroke-width="0.7">$</text>
</g>
</g>
</svg>
</body></html>
